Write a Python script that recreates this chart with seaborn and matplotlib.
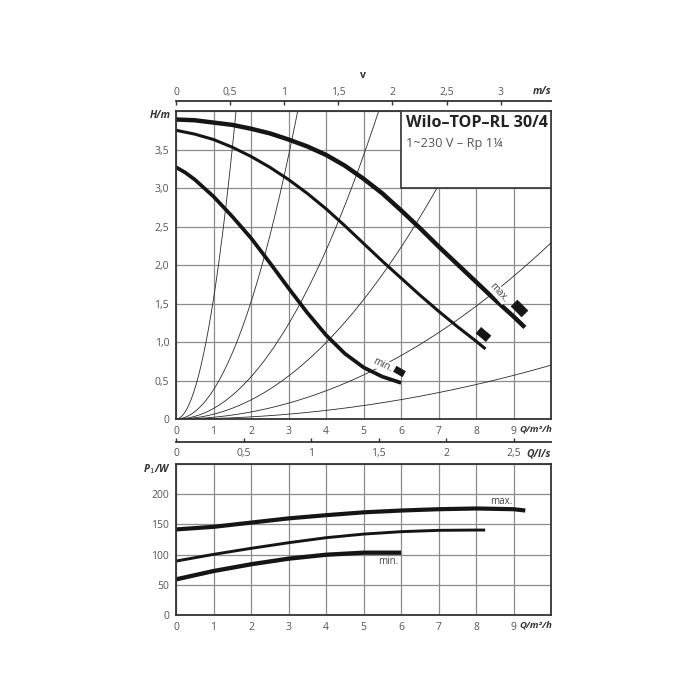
import numpy as np
import matplotlib
matplotlib.use("Agg")
import matplotlib.pyplot as plt
import seaborn as sns

# pump curves H(Q)
q_max = [0, 0.5, 1, 1.5, 2, 2.5, 3, 3.5, 4, 4.5, 5, 5.5, 6, 6.5, 7, 7.5, 8, 8.5, 9, 9.3]
h_max = [3.89, 3.88, 3.85, 3.82, 3.77, 3.71, 3.63, 3.54, 3.43, 3.29, 3.12, 2.93,
         2.71, 2.48, 2.24, 2.01, 1.78, 1.55, 1.33, 1.19]
q_mid = [0, 0.5, 1, 1.5, 2, 2.5, 3, 3.5, 4, 4.5, 5, 5.5, 6, 6.5, 7, 7.5, 8, 8.25]
h_mid = [3.75, 3.70, 3.63, 3.53, 3.41, 3.27, 3.11, 2.93, 2.73, 2.51, 2.28, 2.05,
         1.83, 1.61, 1.40, 1.20, 1.01, 0.91]
q_min = [0, 0.25, 0.5, 1, 1.5, 2, 2.5, 3, 3.5, 4, 4.5, 5, 5.5, 6]
h_min = [3.27, 3.20, 3.11, 2.89, 2.63, 2.35, 2.03, 1.70, 1.38, 1.09, 0.85, 0.67, 0.55, 0.47]

# system curve coefficients (H = k * Q^2)
sys_k = [1.56, 0.38, 0.137, 0.062, 0.0229, 0.0070]

# end markers (Q, H)
mark_q = [9.13, 8.19, 5.94]
mark_h = [1.44, 1.10, 0.62]

# power curves P1(Q)
pq_max = [0, 1, 2, 3, 4, 5, 6, 7, 8, 9, 9.31]
p_max = [141.7, 146, 153, 160, 165.3, 170, 173, 175.2, 176.4, 175.2, 173]
pq_mid = [0, 1, 2, 3, 4, 5, 6, 7, 8, 8.24]
p_mid = [89.3, 100.4, 110.4, 119.7, 128, 134, 138, 140.2, 140.7, 140.7]
pq_min = [0, 1, 2, 3, 4, 5, 6]
p_min = [59, 72.8, 84, 93.3, 99.8, 103.2, 103.2]

# ticks
q_ticks = list(range(10))
h_ticks = [0, 0.5, 1, 1.5, 2, 2.5, 3, 3.5]
h_labels = ["0", "0,5", "1,0", "1,5", "2,0", "2,5", "3,0", "3,5"]
p_ticks = [0, 50, 100, 150, 200]
v_ticks = [0, 0.5, 1, 1.5, 2, 2.5, 3]
v_labels = ["0", "0,5", "1", "1,5", "2", "2,5", "3"]
l_ticks = [0, 0.5, 1, 1.5, 2, 2.5]
l_labels = ["0", "0,5", "1", "1,5", "2", "2,5"]
q_per_v = 2.885
q_per_ls = 3.6

title = "Wilo–TOP–RL 30/4"
subtitle = "1~230 V – Rp 1¼"

sns.set_style("white")
plt.rcParams["font.family"] = ["Open Sans", "DejaVu Sans"]

tick_col = "#555555"
grid_col = "#8c8c8c"
frame_col = "#333333"
curve_col = "#151515"

fig = plt.figure(figsize=(7, 7), dpi=100)
ax_h = fig.add_axes([0.2514, 0.4014, 0.536, 0.44])
ax_p = fig.add_axes([0.2514, 0.1214, 0.536, 0.2157])


def style_axes(ax):
    ax.set_xlim(0, 10)
    ax.set_axisbelow(True)
    ax.grid(True, color=grid_col, linewidth=0.9)
    for s in ax.spines.values():
        s.set_color(frame_col)
        s.set_linewidth(1.3)
    ax.tick_params(length=0, labelsize=7.5, labelcolor=tick_col, pad=5)
    ax.set_xticks(q_ticks)
    ax.set_xlabel("")
    ax.set_ylabel("")


# ---- head chart
qq = np.linspace(0, 10, 300)
for k in sys_k:
    sns.lineplot(x=qq, y=k * qq ** 2, ax=ax_h, color="#2a2a2a", linewidth=0.6)

sns.lineplot(x=q_max, y=h_max, ax=ax_h, color=curve_col, linewidth=3.2)
sns.lineplot(x=q_mid, y=h_mid, ax=ax_h, color=curve_col, linewidth=2.2)
sns.lineplot(x=q_min, y=h_min, ax=ax_h, color=curve_col, linewidth=2.7)
for lines in ax_h.get_lines():
    lines.set_solid_capstyle("butt")
    lines.set_solid_joinstyle("round")

marker_angles = [-45, -40, -30]
marker_sizes = [12, 10.5, 8.5]
for mq, mh, ang, ms in zip(mark_q, mark_h, marker_angles, marker_sizes):
    a = np.deg2rad(ang)
    base = np.array([[-1, -0.6], [1, -0.6], [1, 0.6], [-1, 0.6], [-1, -0.6]])
    rot = np.array([[np.cos(a), -np.sin(a)], [np.sin(a), np.cos(a)]])
    verts = base @ rot.T
    ax_h.plot(mq, mh, marker=verts, markersize=ms, color=curve_col,
              markeredgecolor=curve_col, markeredgewidth=0.5, linestyle="none", zorder=4)

ax_h.text(8.6, 1.645, "max.", rotation=-48, fontsize=7, color="#444444",
          ha="center", va="center",
          bbox=dict(facecolor="white", edgecolor="none", pad=0.3))
ax_h.text(5.51, 0.70, "min.", rotation=-25, fontsize=7, color="#444444",
          ha="center", va="center",
          bbox=dict(facecolor="white", edgecolor="none", pad=0.3))

ax_h.set_ylim(0, 4)
style_axes(ax_h)
ax_h.set_yticks(h_ticks + [4])
ax_h.set_yticklabels(h_labels + [""])
ax_h.set_xticklabels([str(t) for t in q_ticks])

ax_h.add_patch(plt.Rectangle((0.6, 0.75), 0.4, 0.25, transform=ax_h.transAxes,
                             facecolor="white", edgecolor=frame_col,
                             linewidth=1.2, zorder=5))
ax_h.text(0.612, 0.961, title, transform=ax_h.transAxes, fontsize=11.6,
          fontweight="bold", color="#222222", ha="left", va="center", zorder=6)
ax_h.text(0.612, 0.896, subtitle, transform=ax_h.transAxes, fontsize=9.2,
          color="#555555", ha="left", va="center", zorder=6)

ax_h.text(-0.013, 0.984, "H/m", transform=ax_h.transAxes, fontsize=7.5,
          fontweight="bold", style="italic", color="#333333", ha="right", va="center")
ax_h.text(1.004, -0.032, "Q/m³/h", transform=ax_h.transAxes, fontsize=6.8,
          fontweight="bold", style="italic", color="#333333", ha="right", va="center")

sec_v = ax_h.secondary_xaxis(1 + 10 / 308,
                             functions=(lambda q: q / q_per_v, lambda v: v * q_per_v))
sec_v.set_xticks(v_ticks)
sec_v.set_xticklabels(v_labels)
sec_v.tick_params(direction="in", length=3, width=1, color=frame_col,
                  labelsize=7.5, labelcolor=tick_col, pad=2)
sec_v.spines["top"].set_color(frame_col)
sec_v.spines["top"].set_linewidth(1.3)
ax_h.text(0.499, 1.114, "v", transform=ax_h.transAxes, fontsize=7.5,
          fontweight="bold", color="#333333", ha="center", va="center")
ax_h.text(1.0, 1.062, "m/s", transform=ax_h.transAxes, fontsize=7.5,
          fontweight="bold", style="italic", color="#333333", ha="right", va="center")

# ---- power chart
sns.lineplot(x=pq_max, y=p_max, ax=ax_p, color=curve_col, linewidth=3.0)
sns.lineplot(x=pq_mid, y=p_mid, ax=ax_p, color=curve_col, linewidth=2.1)
sns.lineplot(x=pq_min, y=p_min, ax=ax_p, color=curve_col, linewidth=3.1)
for lines in ax_p.get_lines():
    lines.set_solid_capstyle("butt")
    lines.set_solid_joinstyle("round")

ax_p.text(8.66, 187.6, "max.", fontsize=7, color="#444444", ha="center", va="center")
ax_p.text(5.67, 88, "min.", fontsize=7, color="#444444", ha="center", va="center")

ax_p.set_ylim(0, 250)
style_axes(ax_p)
ax_p.set_yticks(p_ticks + [250])
ax_p.set_yticklabels([str(t) for t in p_ticks] + [""])
ax_p.set_xticklabels([str(t) for t in q_ticks])

ax_p.text(-0.013, 0.967, "P$_1$/W", transform=ax_p.transAxes, fontsize=7.5,
          fontweight="bold", style="italic", color="#333333", ha="right", va="center")
ax_p.text(1.004, -0.066, "Q/m³/h", transform=ax_p.transAxes, fontsize=6.8,
          fontweight="bold", style="italic", color="#333333", ha="right", va="center")

sec_l = ax_p.secondary_xaxis(1 + 22 / 151,
                             functions=(lambda q: q / q_per_ls, lambda l: l * q_per_ls))
sec_l.set_alignment("bottom")
sec_l.set_xticks(l_ticks)
sec_l.set_xticklabels(l_labels)
sec_l.tick_params(direction="in", length=3, width=1, color=frame_col,
                  labelsize=7.5, labelcolor=tick_col, pad=4)
sec_l.spines["bottom"].set_color(frame_col)
sec_l.spines["bottom"].set_linewidth(1.3)
ax_p.text(1.0, 1.066, "Q/l/s", transform=ax_p.transAxes, fontsize=7.5,
          fontweight="bold", style="italic", color="#333333", ha="right", va="center")

fig.savefig("out.png", dpi=100, facecolor="white")
